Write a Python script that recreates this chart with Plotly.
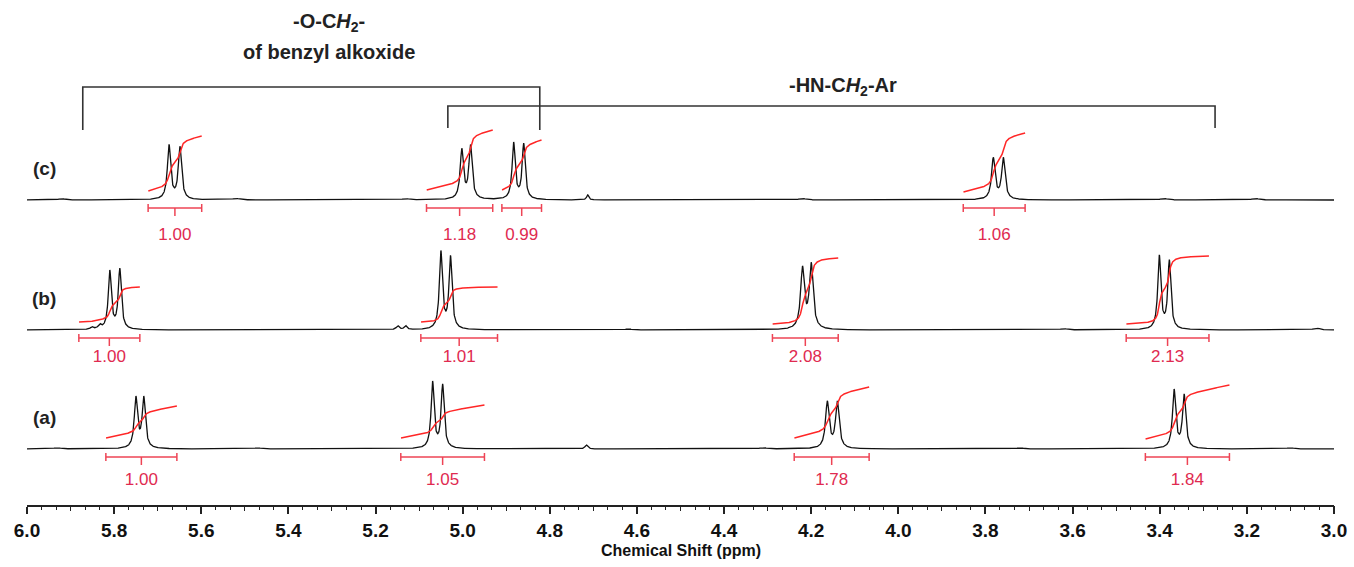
import numpy as np
import plotly.graph_objects as go

# ------------------------------------------------------------------ data
# chemical-shift axis (ppm)
ppm_left, ppm_right = 6.0, 3.0
tick_values = [6.0, 5.8, 5.6, 5.4, 5.2, 5.0, 4.8, 4.6, 4.4, 4.2, 4.0, 3.8, 3.6, 3.4, 3.2, 3.0]

spectra_names = ["(a)", "(b)", "(c)"]

# peak lists: centre (ppm), height, half-width (ppm)
a_centers = [5.750, 5.732, 5.069, 5.046, 4.716, 4.163, 4.140, 3.367, 3.344, 5.93, 5.47, 4.31, 3.72, 3.10]
a_heights = [50, 50, 66, 63, 4, 46, 46, 58, 53, 1.2, 1.0, 1.2, 1.0, 1.2]
a_widths  = [0.0045, 0.0045, 0.0042, 0.0042, 0.004, 0.005, 0.005, 0.0045, 0.0045, 0.01, 0.01, 0.01, 0.01, 0.01]

b_centers = [5.851, 5.833, 5.810, 5.787, 5.149, 5.131, 5.050, 5.028, 4.220, 4.200, 3.401, 3.378, 4.62, 3.62, 3.04]
b_heights = [2.5, 4, 58, 60, 4, 4, 77, 72, 60, 64, 73, 68, 1.0, 1.2, 2.0]
b_widths  = [0.004, 0.004, 0.0042, 0.0042, 0.004, 0.004, 0.0042, 0.0042, 0.0052, 0.0052, 0.0042, 0.0042, 0.01, 0.01, 0.008]

c_centers = [5.674, 5.649, 5.002, 4.982, 4.883, 4.860, 4.713, 3.782, 3.759, 5.92, 5.52, 4.22, 3.39, 3.18, 5.13]
c_heights = [54, 52, 49, 53, 56, 55, 5, 41, 41, 1.2, 1.4, 1.5, 1.5, 1.5, 1.2]
c_widths  = [0.0045, 0.0045, 0.0045, 0.0045, 0.0042, 0.0042, 0.003, 0.0048, 0.0048, 0.01, 0.01, 0.01, 0.01, 0.01, 0.01]

# integrations: start / end (ppm), curve start level, curve end level,
# share of the rise that follows the peak area, integral value
a_int_start = [5.819, 5.142, 4.239, 3.433]
a_int_end   = [5.656, 4.950, 4.067, 3.240]
a_int_lo    = [11, 11, 11, 10]
a_int_hi    = [43, 44, 62, 64]
a_int_frac  = [0.6, 0.6, 0.7, 0.7]
a_int_vals  = ["1.00", "1.05", "1.78", "1.84"]

b_int_start = [5.881, 5.096, 4.289, 3.477]
b_int_end   = [5.741, 4.920, 4.138, 3.287]
b_int_lo    = [8, 8, 6, 6]
b_int_hi    = [43, 43, 72, 74]
b_int_frac  = [1.0, 1.0, 1.0, 1.0]
b_int_vals  = ["1.00", "1.01", "2.08", "2.13"]

c_int_start = [5.722, 5.083, 4.910, 3.851]
c_int_end   = [5.599, 4.931, 4.819, 3.709]
c_int_lo    = [9, 10, 10, 8]
c_int_hi    = [64, 70, 60, 67]
c_int_frac  = [0.8, 0.8, 0.8, 0.8]
c_int_vals  = ["1.00", "1.18", "0.99", "1.06"]

# bracket annotations (ppm ranges)
bracket1_range = [5.872, 4.823]
bracket2_range = [5.034, 3.273]

# ------------------------------------------------------------------ layout constants
W, H = 1354, 567
M_L, M_R, M_T, M_B = 27, 20, 0, 62
plot_h = H - M_T - M_B          # y unit == 1 px
offsets = {"(a)": 56, "(b)": 175, "(c)": 305}
value_drop = {"(a)": 32, "(b)": 28, "(c)": 36}

SPEC_COLOR = "#111111"
INT_COLOR = "#ff2626"
BAR_COLOR = "#ee4455"
VAL_COLOR = "#e02a50"
FONT = "Arial, Liberation Sans, Helvetica, sans-serif"

grid = np.arange(ppm_left, ppm_right - 1e-9, -0.0005)


def build_spectrum(centers, heights, widths):
    y = np.zeros_like(grid)
    for c, h, w in zip(centers, heights, widths):
        y += h / (1.0 + ((grid - c) / w) ** 2)
    return y


peaks = {
    "(a)": (a_centers, a_heights, a_widths),
    "(b)": (b_centers, b_heights, b_widths),
    "(c)": (c_centers, c_heights, c_widths),
}
integrals = {
    "(a)": (a_int_start, a_int_end, a_int_lo, a_int_hi, a_int_frac, a_int_vals),
    "(b)": (b_int_start, b_int_end, b_int_lo, b_int_hi, b_int_frac, b_int_vals),
    "(c)": (c_int_start, c_int_end, c_int_lo, c_int_hi, c_int_frac, c_int_vals),
}

fig = go.Figure()
annotations = []

for name in spectra_names:
    off = offsets[name]
    spec = build_spectrum(*peaks[name])
    fig.add_trace(go.Scatter(x=grid, y=spec + off, mode="lines",
                             line=dict(color=SPEC_COLOR, width=1.3),
                             hoverinfo="skip", showlegend=False))

    ix, iy = [], []
    bx, by = [], []
    tx, ty, tt = [], [], []
    for s, e, lo, hi, fr, val in zip(*integrals[name]):
        m = (grid <= s) & (grid >= e)
        xs = grid[m]
        cum = np.cumsum(spec[m])
        cum = (cum - cum[0]) / (cum[-1] - cum[0])
        lin = np.linspace(0, 1, len(xs))
        ys = off + lo + (hi - lo) * (fr * cum + (1 - fr) * lin)
        ix += list(xs) + [None]
        iy += list(ys) + [None]
        yb = off - 8
        mid = (s + e) / 2
        bx += [s, e, None, s, s, None, e, e, None, mid, mid, None]
        by += [yb, yb, None, yb - 4, yb + 4, None, yb - 4, yb + 4, None, yb, yb - 8, None]
        tx.append(mid)
        ty.append(off - value_drop[name])
        tt.append(val)
    fig.add_trace(go.Scatter(x=ix, y=iy, mode="lines",
                             line=dict(color=INT_COLOR, width=1.5),
                             hoverinfo="skip", showlegend=False))
    fig.add_trace(go.Scatter(x=bx, y=by, mode="lines",
                             line=dict(color=BAR_COLOR, width=1.5),
                             hoverinfo="skip", showlegend=False))
    fig.add_trace(go.Scatter(x=tx, y=ty, mode="text", text=tt,
                             textfont=dict(family=FONT, size=17, color=VAL_COLOR),
                             hoverinfo="skip", showlegend=False))
    annotations.append(dict(x=5.96, y=off + 32, xref="x", yref="y", text=name,
                            showarrow=False, xanchor="center", yanchor="middle",
                            font=dict(family=FONT, size=19, color="#222", weight="bold")))

# dummy trace for the mid-tick overlay axis
fig.add_trace(go.Scatter(x=[], y=[], xaxis="x2", showlegend=False, hoverinfo="skip"))

shapes = []
b1y, b1v = plot_h - 87, plot_h - 130
b2y, b2v = plot_h - 106, plot_h - 128
shapes.append(dict(type="path", xref="x", yref="y",
                   path=f"M {bracket1_range[0]},{b1v} L {bracket1_range[0]},{b1y} "
                        f"L {bracket1_range[1]},{b1y} L {bracket1_range[1]},{b1v}",
                   line=dict(color="#333", width=1.6)))
shapes.append(dict(type="path", xref="x", yref="y",
                   path=f"M {bracket2_range[0]},{b2v} L {bracket2_range[0]},{b2y} "
                        f"L {bracket2_range[1]},{b2y} L {bracket2_range[1]},{b2v}",
                   line=dict(color="#333", width=1.6)))

lab_font = dict(family=FONT, size=20, color="#222", weight="bold")
annotations += [
    dict(x=5.307, y=plot_h - 22, xref="x", yref="y", showarrow=False,
         text="-O-C<i>H</i><sub>2</sub>-", font=lab_font),
    dict(x=5.307, y=plot_h - 52, xref="x", yref="y", showarrow=False,
         text="of benzyl alkoxide", font=lab_font),
    dict(x=4.128, y=plot_h - 86, xref="x", yref="y", showarrow=False,
         text="-HN-C<i>H</i><sub>2</sub>-Ar", font=lab_font),
    dict(x=0.5, y=0, xref="paper", yref="paper", yanchor="top", yshift=-35,
         showarrow=False, text="Chemical Shift (ppm)",
         font=dict(family=FONT, size=16, color="#111", weight="bold")),
]

fig.update_layout(
    width=W, height=H,
    margin=dict(l=M_L, r=M_R, t=M_T, b=M_B),
    paper_bgcolor="white", plot_bgcolor="white",
    shapes=shapes, annotations=annotations,
    xaxis=dict(range=[ppm_left, ppm_right], showline=True, linecolor="#222", linewidth=1.5,
               ticks="outside", ticklen=7, tickwidth=1.5, tickcolor="#222",
               tickvals=tick_values, ticktext=[f"{v:.1f}" for v in tick_values],
               tickfont=dict(family=FONT, size=19, color="#111", weight="bold"),
               showgrid=False, zeroline=False,
               minor=dict(dtick=0.2 / 6, tick0=3.0, ticklen=3, tickwidth=1.2,
                          tickcolor="#222", ticks="outside", showgrid=False)),
    xaxis2=dict(range=[ppm_left, ppm_right], overlaying="x", anchor="y", side="bottom",
                ticks="outside", ticklen=5, tickwidth=1.2, tickcolor="#222",
                dtick=0.1, tick0=3.0, showticklabels=False, showgrid=False,
                showline=False, zeroline=False),
    yaxis=dict(range=[0, plot_h], visible=False, fixedrange=True),
    showlegend=False,
)

fig.write_html("out.html")
